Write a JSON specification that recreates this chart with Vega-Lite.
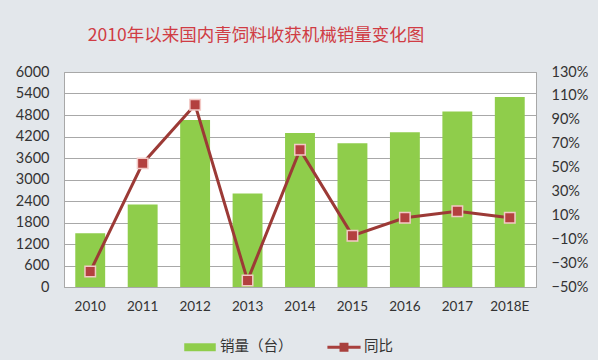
{
  "$schema": "https://vega.github.io/schema/vega-lite/v6.json",
  "width": 472,
  "height": 215,
  "autosize": {"type": "none"},
  "padding": {"left": 64, "top": 72, "right": 62, "bottom": 73},
  "background": "#e3e7eb",
  "title": {
    "text": "2010年以来国内青饲料收获机械销量变化图",
    "font": "Noto Sans CJK SC",
    "fontSize": 17.5,
    "fontWeight": "normal",
    "color": "#d03c44",
    "anchor": "middle",
    "dx": -44,
    "offset": 20
  },
  "data": {
    "values": [
      {"year": "2010", "sales": 1500, "yoy": -0.37, "series": "销量（台）"},
      {"year": "2011", "sales": 2300, "yoy": 0.535, "series": "销量（台）"},
      {"year": "2012", "sales": 4660, "yoy": 1.025, "series": "销量（台）"},
      {"year": "2013", "sales": 2610, "yoy": -0.445, "series": "销量（台）"},
      {"year": "2014", "sales": 4300, "yoy": 0.65, "series": "销量（台）"},
      {"year": "2015", "sales": 4010, "yoy": -0.07, "series": "销量（台）"},
      {"year": "2016", "sales": 4320, "yoy": 0.08, "series": "销量（台）"},
      {"year": "2017", "sales": 4900, "yoy": 0.135, "series": "销量（台）"},
      {"year": "2018E", "sales": 5300, "yoy": 0.08, "series": "销量（台）"}
    ]
  },
  "encoding": {
    "x": {
      "field": "year",
      "type": "nominal",
      "sort": null,
      "scale": {"paddingInner": 0.43, "paddingOuter": 0.215},
      "axis": {
        "title": null,
        "labelAngle": 0,
        "ticks": false,
        "domain": false,
        "labelPadding": 12,
        "labelFont": "Lato",
        "labelFontSize": 13.5,
        "labelColor": "#333333"
      }
    }
  },
  "layer": [
    {
      "mark": {"type": "bar", "color": "#8fcd4b"},
      "encoding": {
        "y": {
          "field": "sales",
          "type": "quantitative",
          "scale": {"domain": [0, 6000], "nice": false},
          "axis": {
            "title": null,
            "format": "d",
            "values": [0, 600, 1200, 1800, 2400, 3000, 3600, 4200, 4800, 5400, 6000],
            "labelOverlap": false,
            "ticks": false,
            "labelPadding": 15,
            "labelFont": "Lato",
            "labelFontSize": 14.5,
            "labelColor": "#333333",
            "grid": true,
            "gridColor": "#a8a8a8",
            "domainColor": "#a8a8a8"
          }
        },
        "color": {
          "field": "series",
          "type": "nominal",
          "scale": {"domain": ["销量（台）", "同比"], "range": ["#8fcd4b", "#a8403d"]},
          "legend": {
            "title": null,
            "orient": "none",
            "direction": "horizontal",
            "legendX": 119,
            "legendY": 258,
            "symbolSize": 1100,
            "symbolStrokeWidth": 0,
            "labelFont": "Noto Sans CJK SC",
            "labelFontSize": 14.5,
            "labelColor": "#333333",
            "labelOffset": 3,
            "columnPadding": 34,
            "encode": {
              "symbols": {
                "update": {
                  "shape": {"signal": "datum.value === '同比' ? 'M-1,-0.09H-0.27V-0.27H0.27V-0.09H1V0.09H0.27V0.27H-0.27V0.09H-1Z' : 'M-0.95,-0.24H0.95V0.24H-0.95Z'"},
                  "fill": {"signal": "datum.value === '同比' ? '#b0423f' : '#8fcd4b'"},
                  "strokeWidth": {"value": 0}
                }
              }
            }
          }
        }
      }
    },
    {
      "encoding": {
        "y": {
          "field": "yoy",
          "type": "quantitative",
          "scale": {"domain": [-0.5, 1.3], "nice": false, "zero": false},
          "axis": {
            "title": null,
            "orient": "right",
            "format": ".0%",
            "values": [-0.5, -0.3, -0.1, 0.1, 0.3, 0.5, 0.7, 0.9, 1.1, 1.3],
            "labelOverlap": false,
            "ticks": false,
            "grid": false,
            "labelPadding": 15,
            "labelFont": "Lato",
            "labelFontSize": 14.5,
            "labelColor": "#333333",
            "domainColor": "#a8a8a8"
          }
        }
      },
      "layer": [
        {
          "mark": {"type": "line", "color": "#9c3a36", "strokeWidth": 3}
        },
        {
          "mark": {"type": "point", "shape": "square", "filled": true, "size": 110, "fill": "#b3413f", "stroke": "#f3c9c6", "strokeWidth": 1.5, "opacity": 1}
        }
      ]
    }
  ],
  "resolve": {"scale": {"y": "independent"}},
  "config": {
    "view": {"fill": "white", "stroke": "#a8a8a8"}
  }
}
